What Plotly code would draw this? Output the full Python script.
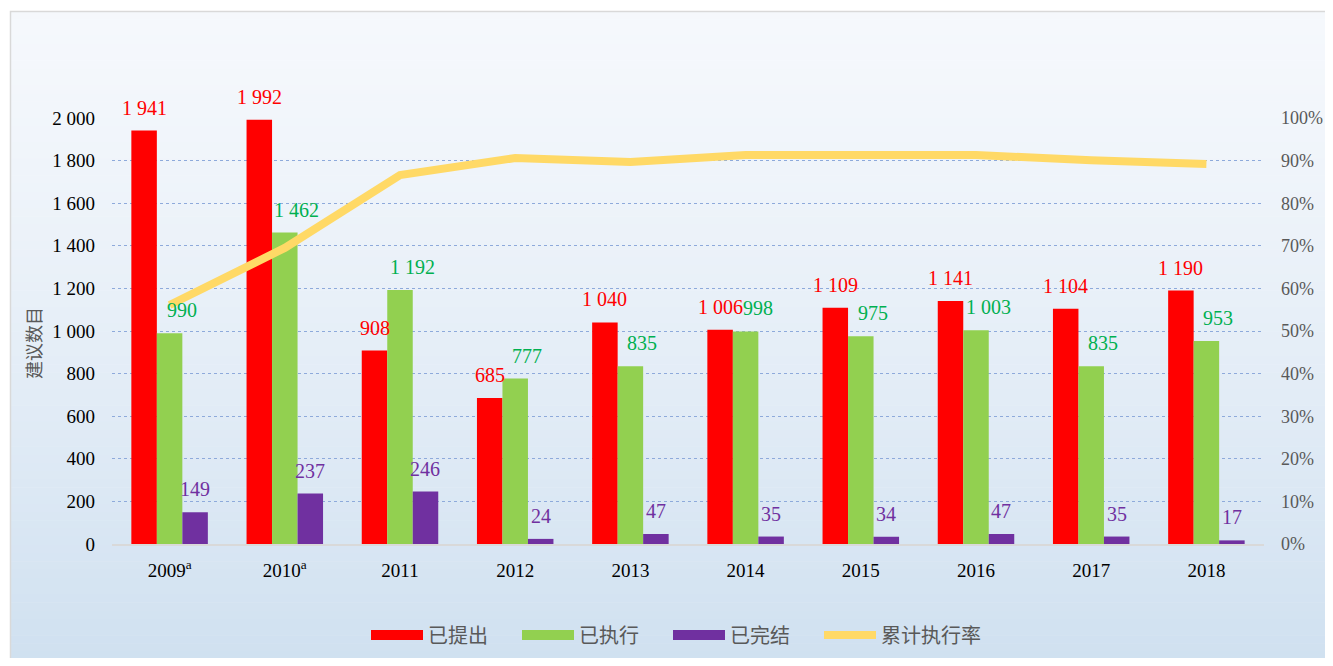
import plotly.graph_objects as go

years = ["2009<sup>a</sup>", "2010<sup>a</sup>", "2011", "2012", "2013", "2014", "2015", "2016", "2017", "2018"]
proposed = [1941, 1992, 908, 685, 1040, 1006, 1109, 1141, 1104, 1190]
executed = [990, 1462, 1192, 777, 835, 998, 975, 1003, 835, 953]
completed = [149, 237, 246, 24, 47, 35, 34, 47, 35, 17]
rate = [0.561, 0.695, 0.866, 0.906, 0.897, 0.913, 0.913, 0.913, 0.901, 0.892]

names = ["已提出", "已执行", "已完结", "累计执行率"]
y_title = "建议数目"
colors = ["#ff0000", "#92d050", "#7030a0", "#ffd966"]
label_colors = ["#ff0000", "#00b050", "#7030a0"]


def fmt(v):
    return f"{v:,}".replace(",", " ")


OFF = 8  # page body margin
W, H = 1333 - OFF, 666 - 2 * OFF
L, R, T, B = 112 - OFF, 1264 - OFF, 118 - OFF, 544 - OFF
BARGAP = 0.336


def px_to_paper_x(px):
    return (px - OFF - L) / (R - L)


def px_to_paper_y(py):
    return (B - (py - OFF)) / (B - T)


fig = go.Figure()

serif = "Liberation Serif, Times New Roman, serif"
cjk = "Noto Sans CJK SC, sans-serif"

bar_w = (R - L) / len(years) * (1 - BARGAP) / 3
annotations = []
label_dx = [0, 12, 0]

for k, (vals, nm, col, lc) in enumerate(zip([proposed, executed, completed], names[:3], colors[:3], label_colors)):
    fig.add_trace(go.Bar(
        x=years, y=vals, name=nm, marker=dict(color=col, line=dict(width=0)),
        showlegend=False, legendgroup=nm,
    ))
    # legend entry drawn as a thick bar-like line
    fig.add_trace(go.Scatter(
        x=[years[0]], y=[None], name=nm, mode="lines", legendgroup=nm,
        line=dict(color=col, width=14),
    ))
    for i, v in enumerate(vals):
        annotations.append(dict(
            x=i, y=v, xref="x", yref="y", text=fmt(v), showarrow=False,
            xanchor="center", yanchor="middle", xshift=(k - 1) * bar_w + label_dx[k], yshift=23,
            font=dict(family=serif, size=20, color=lc),
        ))

fig.add_trace(go.Scatter(
    x=years, y=rate, name=names[3], yaxis="y2", mode="lines",
    line=dict(color=colors[3], width=8),
))
# invisible spacer so the last legend label is not clipped
fig.add_trace(go.Scatter(
    x=[years[0]], y=[None], name="\u00a0", mode="lines",
    line=dict(color="rgba(0,0,0,0)", width=1), hoverinfo="skip",
))

annotations.append(dict(
    x=px_to_paper_x(33), y=px_to_paper_y(343), xref="paper", yref="paper",
    text=y_title, textangle=-90, showarrow=False, xanchor="center", yanchor="middle",
    font=dict(family=cjk, size=18, color="#595959"),
))

# gradient background strips
shapes = []
n = 80
top_c = (0xf5, 0xf8, 0xfc)
bot_c = (0xcf, 0xe0, 0xf0)
y_start, y_end = 11, 668
for i in range(n):
    y0 = y_start + (y_end - y_start) * i / n
    y1 = y_start + (y_end - y_start) * (i + 1) / n
    t = (i + 0.5) / n
    t = t ** 1.3
    c = tuple(int(round(a + (b - a) * t)) for a, b in zip(top_c, bot_c))
    shapes.append(dict(
        type="rect", xref="paper", yref="paper", layer="below",
        x0=px_to_paper_x(10), x1=px_to_paper_x(1340),
        y0=px_to_paper_y(y1 + 0.5), y1=px_to_paper_y(y0),
        fillcolor="rgb(%d,%d,%d)" % c, line=dict(width=0),
    ))
shapes.append(dict(
    type="rect", xref="paper", yref="paper", layer="below",
    x0=px_to_paper_x(10.5), x1=px_to_paper_x(1345),
    y0=px_to_paper_y(675), y1=px_to_paper_y(11.5),
    fillcolor="rgba(0,0,0,0)", line=dict(color="#d9d9d9", width=1.5),
))

fig.update_layout(
    width=W, height=H,
    margin=dict(l=L, r=W - R, t=T, b=H - B, pad=0, autoexpand=False),
    paper_bgcolor="white", plot_bgcolor="rgba(0,0,0,0)",
    separators=". ",
    barmode="group", bargap=BARGAP, bargroupgap=0,
    shapes=shapes,
    annotations=annotations,
    showlegend=True,
    legend=dict(orientation="h", x=px_to_paper_x(366), xanchor="left",
                y=px_to_paper_y(635), yanchor="middle",
                font=dict(family=cjk, size=20, color="#595959"), bgcolor="rgba(0,0,0,0)",
                itemwidth=52, entrywidth=84, tracegroupgap=0),
    xaxis=dict(type="category", categoryorder="array", categoryarray=years,
               range=[-0.5, len(years) - 0.5],
               showline=True, linecolor="#d9d9d9", linewidth=2, ticks="", showgrid=False,
               ticklabelstandoff=8, automargin=False,
               tickfont=dict(family=serif, size=19, color="#000000")),
    yaxis=dict(range=[0, 2000], dtick=200, tickformat=",d", showgrid=True,
               gridcolor="#8eaadb", griddash="dot", gridwidth=1, zeroline=False,
               ticklabelstandoff=16, automargin=False,
               tickfont=dict(family=serif, size=19, color="#000000"), ticks=""),
    yaxis2=dict(range=[0, 1], dtick=0.1, tickformat=".0%", overlaying="y", side="right",
                showgrid=False, zeroline=False, ticks="", ticklabelstandoff=16, automargin=False,
                tickfont=dict(family=serif, size=18, color="#595959")),
)

fig.write_html("out.html")
